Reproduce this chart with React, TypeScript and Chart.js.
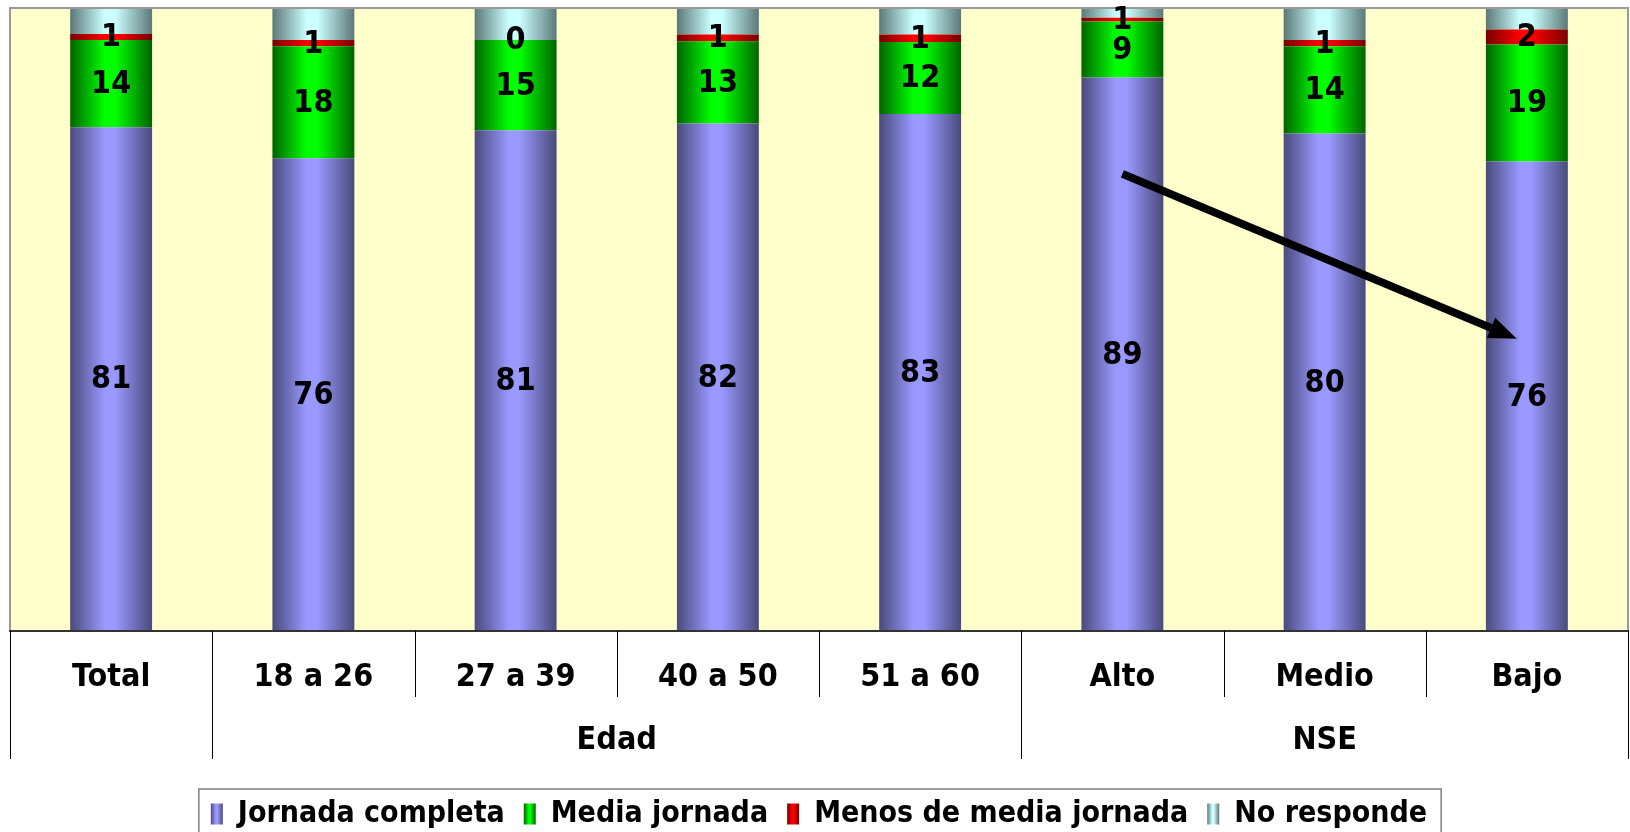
import React, { useEffect, useRef } from 'react';
import { Chart, registerables } from 'chart.js';

Chart.register(...registerables);

// ---------- data ----------
const categories = ['Total', '18 a 26', '27 a 39', '40 a 50', '51 a 60', 'Alto', 'Medio', 'Bajo'];
const groupLabels = ['', 'Edad', 'NSE'];
const groupSpans = [1, 4, 3];
const seriesNames = ['Jornada completa', 'Media jornada', 'Menos de media jornada', 'No responde'];
const jornadaCompleta = [81, 76, 80.5, 81.6, 83.1, 89, 80, 75.5];
const mediaJornada = [14, 18, 14.5, 13.2, 11.6, 9, 14, 18.8];
const menosMediaJornada = [1, 1, 0, 1.1, 1.2, 0.6, 1, 2.4];
const noResponde = [4, 5, 5, 4.1, 4.1, 1.4, 5, 3.3];
// arrow annotation, in data units (category position, percent)
const arrowFrom = { position: 5, value: 73.5 };
const arrowTo = { position: 6.95, value: 47 };

// ---------- style ----------
const FONT = '"DejaVu Sans Condensed", "DejaVu Sans", sans-serif';
const FONT_SIZE = 32;
const LEGEND_FONT_SIZE = 30;
const BAR_FRACTION = 0.405;
const seriesDark = ['#4a4a7c', '#006400', '#780000', '#5c7878'];
const seriesLight = ['#9999ff', '#00ff00', '#ff0000', '#ccffff'];
const labelledSeries = [true, true, true, false];
const LEGEND_SHIFT = 7;

function makeGradient(ctx: CanvasRenderingContext2D, left: number, right: number, dark: string, light: string) {
  const g = ctx.createLinearGradient(left, 0, right, 0);
  g.addColorStop(0, dark);
  g.addColorStop(0.42, light);
  g.addColorStop(0.55, light);
  g.addColorStop(1, dark);
  return g;
}

const excelPlugin = {
  id: 'excelStyle',
  afterLayout(chart: any) {
    const lg = chart.legend;
    if (lg) {
      lg.top += LEGEND_SHIFT;
      lg.bottom += LEGEND_SHIFT;
    }
  },
  beforeDraw(chart: any) {
    const { ctx, chartArea: ca, width, height } = chart;
    ctx.save();
    ctx.fillStyle = '#ffffff';
    ctx.fillRect(0, 0, width, height);
    ctx.fillStyle = '#ffffcc';
    ctx.fillRect(ca.left, ca.top, ca.right - ca.left, ca.bottom - ca.top);
    ctx.restore();
  },
  afterDatasetsDraw(chart: any) {
    const { ctx, chartArea: ca } = chart;
    ctx.save();
    // plot border
    ctx.strokeStyle = '#999999';
    ctx.lineWidth = 2;
    ctx.strokeRect(ca.left, ca.top - 1, ca.right - ca.left, ca.bottom - ca.top + 1);
    ctx.strokeStyle = '#333333';
    ctx.beginPath();
    ctx.moveTo(ca.left - 1, ca.bottom);
    ctx.lineTo(ca.right + 1, ca.bottom);
    ctx.stroke();

    // data labels
    ctx.fillStyle = '#000000';
    ctx.font = `bold ${FONT_SIZE}px ${FONT}`;
    ctx.textAlign = 'center';
    ctx.textBaseline = 'middle';
    chart.data.datasets.forEach((ds: any, di: number) => {
      if (!labelledSeries[di]) return;
      const meta = chart.getDatasetMeta(di);
      meta.data.forEach((el: any, i: number) => {
        const v = ds.data[i];
        const cy = (el.y + el.base) / 2;
        ctx.fillText(String(Math.round(v)), el.x, cy + 1);
      });
    });

    // arrow
    const xs = chart.scales.x;
    const ys = chart.scales.y;
    const x1 = xs.getPixelForValue(arrowFrom.position);
    const y1 = ys.getPixelForValue(arrowFrom.value);
    const x2 = xs.getPixelForValue(arrowTo.position);
    const y2 = ys.getPixelForValue(arrowTo.value);
    const ang = Math.atan2(y2 - y1, x2 - x1);
    const headLen = 28;
    const headHalf = 11;
    const bx = x2 - headLen * Math.cos(ang);
    const by = y2 - headLen * Math.sin(ang);
    ctx.strokeStyle = '#000000';
    ctx.lineWidth = 8;
    ctx.lineCap = 'butt';
    ctx.beginPath();
    ctx.moveTo(x1, y1);
    ctx.lineTo(bx, by);
    ctx.stroke();
    ctx.beginPath();
    ctx.moveTo(x2, y2);
    ctx.lineTo(bx + headHalf * Math.sin(ang), by - headHalf * Math.cos(ang));
    ctx.lineTo(bx - headHalf * Math.sin(ang), by + headHalf * Math.cos(ang));
    ctx.closePath();
    ctx.fillStyle = '#000000';
    ctx.fill();
    ctx.restore();
  },
  afterDraw(chart: any) {
    const { ctx, chartArea: ca } = chart;
    const xs = chart.scales.x;
    const step = xs.getPixelForValue(1) - xs.getPixelForValue(0);
    const n = categories.length;
    const boundary = (i: number) => xs.getPixelForValue(0) - step / 2 + i * step;
    const row1 = ca.bottom + 66;
    const row2 = ca.bottom + 128;
    const groupEdges = new Set<number>([0]);
    let acc = 0;
    groupSpans.forEach((s) => { acc += s; groupEdges.add(acc); });

    ctx.save();
    ctx.strokeStyle = '#000000';
    ctx.lineWidth = 1;
    for (let i = 0; i <= n; i++) {
      const bx = Math.round(boundary(i)) + 0.5;
      ctx.beginPath();
      ctx.moveTo(bx, ca.bottom);
      ctx.lineTo(bx, groupEdges.has(i) ? row2 : row1);
      ctx.stroke();
    }
    ctx.fillStyle = '#000000';
    ctx.font = `bold ${FONT_SIZE}px ${FONT}`;
    ctx.textAlign = 'center';
    ctx.textBaseline = 'middle';
    categories.forEach((c, i) => {
      ctx.fillText(c, xs.getPixelForValue(i), ca.bottom + 47);
    });
    let start = 0;
    groupSpans.forEach((s, gi) => {
      const cx = (boundary(start) + boundary(start + s)) / 2;
      if (groupLabels[gi]) ctx.fillText(groupLabels[gi], cx, ca.bottom + 110);
      start += s;
    });

    // legend markers and frame
    const lg = chart.legend;
    if (lg && lg.legendHitBoxes && lg.legendHitBoxes.length) {
      const hb = lg.legendHitBoxes;
      const boxW = lg.options.labels.boxWidth;
      const boxH = lg.options.labels.boxHeight;
      hb.forEach((h: any, i: number) => {
        const top = h.top + (h.height - boxH) / 2;
        ctx.fillStyle = makeGradient(ctx, h.left, h.left + boxW, seriesDark[i], seriesLight[i]);
        ctx.fillRect(h.left, top, boxW, boxH);
      });
      const left = Math.min(...hb.map((h: any) => h.left)) - 12;
      const right = Math.max(...hb.map((h: any) => h.left + h.width)) + 14;
      const top = Math.min(...hb.map((h: any) => h.top)) - 10;
      ctx.strokeStyle = '#808080';
      ctx.lineWidth = 1.5;
      ctx.strokeRect(left, top, right - left, chart.height - top + 10);
    }
    ctx.restore();
  },
};

export default function App() {
  const ref = useRef<HTMLCanvasElement | null>(null);

  useEffect(() => {
    document.body.style.margin = '0';
    document.body.style.overflow = 'hidden';
    const canvas = ref.current;
    if (!canvas) return;
    const values = [jornadaCompleta, mediaJornada, menosMediaJornada, noResponde];
    const datasets = seriesNames.map((name, si) => ({
      label: name,
      data: values[si],
      backgroundColor: (c: any) => {
        const ch = c.chart;
        const xs = ch.scales && ch.scales.x;
        if (c.type !== 'data' || !xs || !ch.chartArea) return seriesLight[si];
        const center = xs.getPixelForValue(c.dataIndex);
        const w = (xs.getPixelForValue(1) - xs.getPixelForValue(0)) * BAR_FRACTION;
        return makeGradient(ch.ctx, center - w / 2, center + w / 2, seriesDark[si], seriesLight[si]);
      },
      borderWidth: 0,
      categoryPercentage: 1,
      barPercentage: BAR_FRACTION,
    }));

    const chart = new Chart(canvas, {
      type: 'bar',
      data: { labels: categories, datasets },
      options: {
        animation: false,
        responsive: false,
        layout: { padding: { left: 10, right: 2, top: 9, bottom: 0 } },
        scales: {
          x: {
            stacked: true,
            display: true,
            grid: { display: false },
            border: { display: false },
            ticks: { display: false },
            afterFit: (s: any) => { s.height = 142; },
          },
          y: { stacked: true, min: 0, max: 100, display: false },
        },
        plugins: {
          tooltip: { enabled: false },
          legend: {
            position: 'bottom',
            labels: {
              boxWidth: 12,
              boxHeight: 21,
              padding: 19,
              color: '#000000',
              font: { family: FONT, size: LEGEND_FONT_SIZE, weight: 'bold' },
              generateLabels: (ch: any) =>
                ch.data.datasets.map((ds: any, i: number) => ({
                  text: ds.label,
                  fillStyle: 'rgba(0,0,0,0)',
                  strokeStyle: 'rgba(0,0,0,0)',
                  lineWidth: 0,
                  hidden: false,
                  datasetIndex: i,
                  fontColor: '#000000',
                })),
            },
          },
        },
      },
      plugins: [excelPlugin],
    } as any);
    return () => chart.destroy();
  }, []);

  return <canvas ref={ref} width={1630} height={832} style={{ display: 'block' }} />;
}
